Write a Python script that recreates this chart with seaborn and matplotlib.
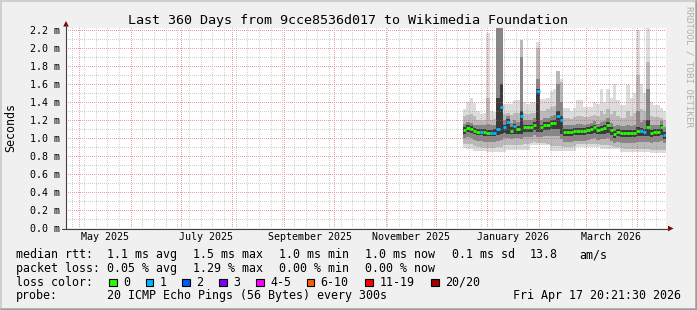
import numpy as np
import pandas as pd
import matplotlib
matplotlib.use("Agg")
import matplotlib.pyplot as plt
import matplotlib.dates as mdates
from matplotlib.colors import to_rgb
from matplotlib.patches import Rectangle, Polygon
import seaborn as sns

# ---------------- data ----------------
title = "Last 360 Days from 9cce8536d017 to Wikimedia Foundation"
t_start = pd.Timestamp("2025-04-22 20:21:30")
t_end = pd.Timestamp("2026-04-17 20:21:30")
first_sample = pd.Timestamp("2025-12-17")
sample_days = 2

# median rtt (ms) per 2-day step
median = [1.09, 1.11, 1.10, 1.08, 1.07, 1.07, 1.065, 1.06, 1.06, 1.06,
          1.10, 1.35, 1.12, 1.18, 1.08, 1.13, 1.10, 1.24, 1.12, 1.12,
          1.12, 1.15, 1.52, 1.12, 1.15, 1.15, 1.17, 1.17, 1.24, 1.20,
          1.065, 1.065, 1.065, 1.08, 1.08, 1.08, 1.08, 1.09, 1.10, 1.12,
          1.09, 1.10, 1.11, 1.15, 1.09, 1.045, 1.07, 1.055, 1.055, 1.055,
          1.055, 1.055, 1.08, 1.08, 1.07, 1.12, 1.055, 1.07, 1.07, 1.12,
          1.03]
loss = [0, 0, 0, 0, 0, 1, 0, 0, 1, 1,
        1, 1, 1, 1, 0, 1, 0, 1, 0, 0,
        0, 0, 1, 0, 0, 0, 0, 0, 1, 1,
        0, 0, 0, 0, 0, 0, 0, 0, 0, 0,
        0, 0, 0, 0, 0, 0, 0, 0, 0, 0,
        0, 0, 0, 1, 1, 0, 0, 0, 0, 0,
        1]
# smoke bands (ms): outermost (0) to innermost (3)
hi0 = [1.32, 1.40, 1.44, 1.39, 1.30, 1.27, 1.28, 2.17, 1.30, 1.29,
       2.40, 2.40, 1.38, 1.38, 1.38, 1.42, 1.42, 2.09, 1.40, 1.38,
       1.40, 1.40, 2.07, 1.43, 1.43, 1.45, 1.52, 1.55, 1.74, 1.66,
       1.33, 1.33, 1.30, 1.33, 1.42, 1.42, 1.35, 1.35, 1.35, 1.40,
       1.38, 1.54, 1.40, 1.54, 1.45, 1.60, 1.42, 1.37, 1.37, 1.59,
       1.45, 1.50, 2.20, 1.60, 1.50, 2.22, 1.40, 1.37, 1.37, 1.33,
       1.30]
lo0 = [0.89, 0.88, 0.88, 0.86, 0.86, 0.86, 0.86, 0.85, 0.85, 0.85,
       0.85, 0.85, 0.85, 0.87, 0.87, 0.87, 0.87, 0.87, 0.87, 0.87,
       0.92, 0.92, 0.92, 0.92, 0.92, 0.92, 0.86, 0.86, 0.86, 0.86,
       0.86, 0.86, 0.86, 0.86, 0.90, 0.90, 0.90, 0.90, 0.90, 0.90,
       0.90, 0.88, 0.88, 0.88, 0.88, 0.88, 0.88, 0.84, 0.84, 0.84,
       0.84, 0.84, 0.84, 0.84, 0.84, 0.84, 0.83, 0.83, 0.83, 0.83,
       0.83]
hi1 = [1.24, 1.26, 1.27, 1.24, 1.20, 1.19, 1.20, 1.45, 1.20, 1.21,
       2.40, 2.40, 1.27, 1.28, 1.26, 1.28, 1.28, 2.09, 1.28, 1.27,
       1.28, 1.28, 2.00, 1.30, 1.30, 1.32, 1.35, 1.36, 1.74, 1.62,
       1.22, 1.22, 1.21, 1.23, 1.25, 1.25, 1.23, 1.23, 1.24, 1.26,
       1.25, 1.30, 1.27, 1.32, 1.27, 1.30, 1.25, 1.22, 1.22, 1.30,
       1.24, 1.28, 1.70, 1.32, 1.30, 1.85, 1.24, 1.23, 1.23, 1.22,
       1.20]
lo1 = [0.93, 0.93, 0.93, 0.91, 0.90, 0.90, 0.89, 0.89, 0.89, 0.89,
       0.90, 0.90, 0.92, 0.92, 0.92, 0.92, 0.92, 0.92, 0.93, 0.93,
       0.95, 0.96, 0.95, 0.94, 0.94, 0.93, 0.91, 0.91, 0.91, 0.91,
       0.90, 0.90, 0.90, 0.91, 0.93, 0.93, 0.93, 0.93, 0.93, 0.93,
       0.93, 0.92, 0.92, 0.92, 0.91, 0.90, 0.90, 0.89, 0.88, 0.88,
       0.88, 0.88, 0.88, 0.88, 0.88, 0.88, 0.87, 0.87, 0.87, 0.87,
       0.87]
hi2 = [1.16, 1.18, 1.17, 1.15, 1.14, 1.14, 1.14, 1.16, 1.14, 1.15,
       2.40, 2.40, 1.20, 1.25, 1.17, 1.20, 1.18, 1.90, 1.20, 1.20,
       1.20, 1.22, 1.66, 1.20, 1.22, 1.22, 1.25, 1.26, 1.60, 1.40,
       1.14, 1.14, 1.14, 1.15, 1.16, 1.16, 1.15, 1.16, 1.17, 1.19,
       1.16, 1.18, 1.19, 1.22, 1.17, 1.13, 1.14, 1.13, 1.13, 1.14,
       1.13, 1.14, 1.30, 1.18, 1.20, 1.55, 1.14, 1.15, 1.15, 1.19,
       1.12]
lo2 = [1.00, 1.01, 1.00, 0.98, 0.97, 0.97, 0.96, 0.96, 0.96, 0.96,
       0.97, 0.98, 1.00, 1.00, 0.99, 1.00, 1.00, 0.99, 1.01, 1.01,
       1.01, 1.03, 1.01, 1.01, 1.02, 1.02, 1.02, 1.02, 1.02, 0.99,
       0.96, 0.96, 0.96, 0.97, 0.97, 0.97, 0.97, 0.98, 0.99, 1.00,
       0.98, 0.99, 0.99, 1.00, 0.97, 0.95, 0.96, 0.95, 0.95, 0.95,
       0.95, 0.95, 0.96, 0.96, 0.96, 0.96, 0.95, 0.96, 0.96, 0.97,
       0.94]
hi3 = [1.12, 1.14, 1.13, 1.11, 1.10, 1.10, 1.10, 1.09, 1.09, 1.10,
       1.45, 1.60, 1.15, 1.21, 1.12, 1.16, 1.13, 1.30, 1.15, 1.15,
       1.15, 1.18, 1.54, 1.15, 1.18, 1.18, 1.20, 1.20, 1.30, 1.25,
       1.10, 1.10, 1.10, 1.11, 1.11, 1.11, 1.11, 1.12, 1.13, 1.15,
       1.12, 1.13, 1.14, 1.18, 1.12, 1.08, 1.10, 1.09, 1.09, 1.09,
       1.09, 1.09, 1.12, 1.11, 1.10, 1.20, 1.09, 1.10, 1.10, 1.15,
       1.07]
lo3 = [1.05, 1.07, 1.06, 1.04, 1.03, 1.03, 1.02, 1.02, 1.02, 1.02,
       1.03, 1.04, 1.06, 1.05, 1.04, 1.05, 1.05, 1.04, 1.07, 1.07,
       1.07, 1.09, 1.07, 1.07, 1.09, 1.09, 1.10, 1.10, 1.10, 1.05,
       1.02, 1.02, 1.02, 1.03, 1.03, 1.03, 1.03, 1.04, 1.05, 1.06,
       1.04, 1.05, 1.05, 1.06, 1.03, 1.00, 1.02, 1.01, 1.01, 1.01,
       1.01, 1.01, 1.02, 1.02, 1.02, 1.02, 1.01, 1.02, 1.02, 1.03,
       0.99]

y_ticks = [0.0, 0.2, 0.4, 0.6, 0.8, 1.0, 1.2, 1.4, 1.6, 1.8, 2.0, 2.2]
y_minor_ticks = [0.1, 0.3, 0.5, 0.7, 0.9, 1.1, 1.3, 1.5, 1.7, 1.9, 2.1]
y_tick_labels = ["%.1f m" % v for v in y_ticks]
x_label_months = ["2025-05-01", "2025-07-01", "2025-09-01", "2025-11-01",
                  "2026-01-01", "2026-03-01"]
x_tick_labels = ["May 2025", "July 2025", "September 2025", "November 2025",
                 "January 2026", "March 2026"]

legend_rows = [
    ["median rtt:", "1.1 ms avg", "1.5 ms max", "1.0 ms min", "1.0 ms now",
     "0.1 ms sd", "13.8", "am/s"],
    ["packet loss:", "0.05 % avg", "1.29 % max", "0.00 % min", "0.00 % now"],
]
loss_labels = ["0", "1", "2", "3", "4-5", "6-10", "11-19", "20/20"]
loss_colors = ["#26ff00", "#00b8ff", "#0059ff", "#7e00ff", "#ff00ff",
               "#ff5e00", "#ff0000", "#a10000"]
probe_text = "20 ICMP Echo Pings (56 Bytes) every 300s"
stamp_text = "Fri Apr 17 20:21:30 2026"

# ---------------- layout ----------------
W, H = 697, 310
BG = "#f0f0f0"
sns.set_theme(style="white")
plt.rcParams["font.family"] = ["DejaVu Sans Mono", "DejaVu Sans"]

fig = plt.figure(figsize=(W / 100, H / 100), dpi=100, facecolor=BG)
AX_L, AX_R, AX_B, AX_T = 66, 666, 228, 28
PW, PH = AX_R - AX_L, AX_B - AX_T
rect = [AX_L / W, 1 - AX_B / H, PW / W, PH / H]
ax = fig.add_axes(rect, zorder=0)
ax.set_facecolor("white")
ymax = PH / 90.0
x0n, x1n = mdates.date2num(t_start), mdates.date2num(t_end)
for s in ax.spines.values():
    s.set_visible(False)

n = len(median)
edges = [first_sample + pd.Timedelta(days=sample_days * i) for i in range(n)] + [t_end]

def ext(a):
    return list(a) + [a[-1]]

band_cols = ["#dcdcdc", "#b9b9b9", "#878787", "#3a3a3a"]
for (lo, hi), bc, z in zip([(lo0, hi0), (lo1, hi1), (lo2, hi2), (lo3, hi3)],
                           band_cols, [1, 2, 3, 4]):
    ax.fill_between(edges, ext(lo), ext(hi), step="post", color=bc,
                    linewidth=0, zorder=z)
ax.set_xlim(t_start, t_end)
ax.set_ylim(0, ymax)
ax.set_yticks(y_ticks)
ax.set_yticklabels(y_tick_labels)
ax.set_xticks([pd.Timestamp(m) + pd.Timedelta(days=15) for m in x_label_months])
ax.set_xticklabels(x_tick_labels)
ax.tick_params(axis="y", length=0, pad=4.6, labelsize=7.2, labelcolor="black")
ax.tick_params(axis="x", length=0, pad=2.8, labelsize=7.2, labelcolor="black")
ax.grid(False)

# ---- dotted rrdtool-style grid, placed pixel-exact with figimage ----
weeks = pd.date_range(t_start.normalize(), t_end, freq="W-SUN")
months = pd.date_range("2025-05-01", t_end, freq="MS")
grid = np.zeros((PH, PW, 4))
minor_rgba = np.array(list(to_rgb("#8f8f8f")) + [0.42])
major_rgba = np.array(list(to_rgb("#de5050")) + [0.56])

def col_of(d):
    return int((mdates.date2num(d) - x0n) / (x1n - x0n) * PW)

def row_of(v):
    return int(round((ymax - v) / ymax * PH))

for d in weeks:
    cc = col_of(d)
    if 0 <= cc < PW:
        grid[0::2, cc, :] = minor_rgba
for d in months:
    cc = col_of(d)
    if 0 <= cc < PW:
        grid[0::2, cc, :] = major_rgba
for v in y_minor_ticks:
    r = row_of(v)
    if 0 <= r < PH:
        grid[r, 0::2, :] = minor_rgba
for v in y_ticks[1:]:
    r = row_of(v)
    if 0 <= r < PH:
        grid[r, 0::2, :] = major_rgba
fig.figimage(grid, xo=AX_L, yo=H - AX_B, origin="upper", zorder=1)

# median line coloured by loss (on a transparent axes above the grid)
axm = fig.add_axes(rect, zorder=2)
axm.patch.set_visible(False)
rows = []
for i in range(n):
    for t in (edges[i], edges[i + 1]):
        rows.append({"t": t, "v": median[i], "seg": i, "loss": str(loss[i])})
df = pd.DataFrame(rows)
sns.lineplot(data=df, x="t", y="v", units="seg", estimator=None, hue="loss",
             palette={"0": loss_colors[0], "1": loss_colors[1]}, linewidth=2.0,
             legend=False, sort=False, ax=axm, solid_capstyle="butt")
axm.set_xlim(t_start, t_end)
axm.set_ylim(0, ymax)
axm.axis("off")

# overlay in pixel coordinates
ov = fig.add_axes([0, 0, 1, 1], zorder=3)
ov.set_xlim(0, W)
ov.set_ylim(H, 0)
ov.axis("off")
ov.patch.set_visible(False)

# frame shading
ov.plot([0, W], [0.7, 0.7], color="#cfcfcf", lw=1.44, solid_capstyle="butt")
ov.plot([0.7, 0.7], [0, H], color="#cfcfcf", lw=1.44, solid_capstyle="butt")
ov.plot([0, W], [H - 1.2, H - 1.2], color="#9e9e9e", lw=1.8, solid_capstyle="butt")
ov.plot([W - 1.2, W - 1.2], [0, H], color="#9e9e9e", lw=1.8, solid_capstyle="butt")

# axes + arrows
ov.plot([AX_L, AX_L], [AX_B + 0.5, 24], color="#404040", lw=0.8)
ov.plot([62, 669], [AX_B + 0.5, AX_B + 0.5], color="#404040", lw=0.8)
ov.add_patch(Polygon([(AX_L - 2.8, 26.5), (AX_L + 2.8, 26.5), (AX_L, 21)],
                     closed=True, color="#7f0000", lw=0))
ov.add_patch(Polygon([(668, AX_B + 0.5 - 2.8), (668, AX_B + 0.5 + 2.8),
                      (673.5, AX_B + 0.5)], closed=True, color="#7f0000", lw=0))

# texts
ov.text(348, 24, title, ha="center", va="baseline", fontsize=9.6, color="black")
ov.text(10.5, 127.5, "Seconds", rotation=90, ha="center", va="center",
        fontsize=8.4, color="black")
ov.text(688.5, 66, "RRDTOOL / TOBI OETIKER", rotation=270, ha="center",
        va="center", fontsize=6.6, color="#b0b0b0")

LFS = 8.4
row_x = [16, 107.3, 193.3, 279, 365.3, 451.7, 530, 579.3]
for row, yb in zip(legend_rows, [258.3, 271.8]):
    for txt, x in zip(row, row_x):
        ov.text(x, yb, txt, ha="left", va="baseline", fontsize=LFS, color="black")

yb3 = 285.8
ov.text(16, yb3, "loss color:", ha="left", va="baseline", fontsize=LFS, color="black")
box_x = [109, 145.7, 182.3, 219, 256, 306.7, 365.3, 431]
for bx, lab, col in zip(box_x, loss_labels, loss_colors):
    ov.add_patch(Rectangle((bx, 278.5), 7.5, 7.5, facecolor=col,
                           edgecolor="black", lw=0.8))
    ov.text(bx + 14, yb3, lab, ha="left", va="baseline", fontsize=LFS, color="black")

yb4 = 299.5
ov.text(16, yb4, "probe:", ha="left", va="baseline", fontsize=LFS, color="black")
ov.text(107.3, yb4, probe_text, ha="left", va="baseline", fontsize=LFS, color="black")
ov.text(513.3, yb4, stamp_text, ha="left", va="baseline", fontsize=LFS, color="black")

fig.savefig("out.png", dpi=100, facecolor=BG)

# safety check: if the vertical dotted grid did not come through, add it as lines
chk = plt.imread("out.png")
c0 = AX_L + col_of(months[0])
if chk[194:200, c0, 1].min() > 0.9:
    for d in weeks:
        ax.axvline(d, color="#e2e2e2", linewidth=0.72, zorder=5)
    for d in months:
        ax.axvline(d, color="#f2c4c4", linewidth=0.72, zorder=5)
    fig.savefig("out.png", dpi=100, facecolor=BG)
